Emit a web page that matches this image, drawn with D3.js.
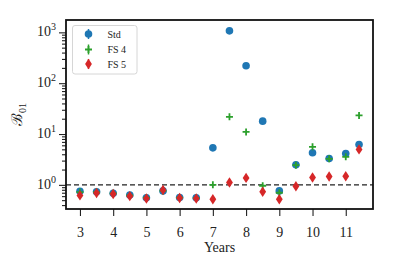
<!DOCTYPE html>
<html>
<head>
<meta charset="utf-8">
<script src="https://cdn.jsdelivr.net/npm/d3@7"></script>
<style>
  body { margin: 0; background: #fff; }
  text { font-family: "Liberation Serif", "DejaVu Serif", serif; }
</style>
</head>
<body>
<script>
// Bayes factor per year window
const years = [3, 3.5, 4, 4.5, 5, 5.5, 6, 6.5, 7, 7.5, 8, 8.5, 9, 9.5, 10, 10.5, 11, 11.4];
const stdVals = [0.75, 0.73, 0.68, 0.63, 0.555, 0.76, 0.565, 0.555, 5.35, 1070, 220, 17.9, 0.76, 2.48, 4.27, 3.31, 4.15, 6.24];
const fs4Vals = [0.72, 0.72, 0.68, 0.62, 0.56, 0.76, 0.56, 0.55, 1.0, 21.8, 11, 0.96, 0.70, 2.44, 5.6, 3.25, 3.56, 23.2];
const fs5Vals = [0.62, 0.69, 0.66, 0.60, 0.54, 0.79, 0.55, 0.54, 0.52, 1.11, 1.37, 0.73, 0.52, 0.94, 1.40, 1.46, 1.48, 4.98];
const xTicks = [3, 4, 5, 6, 7, 8, 9, 10, 11];
const yTicks = [1, 10, 100, 1000];
const seriesNames = ["Std", "FS 4", "FS 5"];

const width = 394, height = 268;
const margin = {top: 20, right: 21, bottom: 59, left: 66};

const svg = d3.select("body").append("svg")
    .attr("width", width)
    .attr("height", height);

const xscale = d3.scaleLinear()
    .domain([2.58, 11.82])
    .range([margin.left, width - margin.right]);

const yscale = d3.scaleLog()
    .domain([0.335, 1750])
    .range([height - margin.bottom, margin.top]);

// minor ticks for log axis
const minor = [];
for (let e = -1; e <= 3; e++) {
    for (let m = 2; m <= 9; m++) {
        const v = m * Math.pow(10, e);
        if (v >= 0.335 && v <= 1750) minor.push(v);
    }
}

const yaxis = d3.axisLeft(yscale)
    .tickValues(yTicks)
    .tickSize(7)
    .tickFormat("");
const yminor = d3.axisLeft(yscale)
    .tickValues(minor)
    .tickSize(4)
    .tickFormat("");
const xaxis = d3.axisBottom(xscale)
    .tickValues(xTicks)
    .tickSize(7)
    .tickFormat(d3.format("d"));

const gy = svg.append("g")
    .attr("transform", `translate(${margin.left},0)`)
    .call(yaxis);
svg.append("g")
    .attr("transform", `translate(${margin.left},0)`)
    .call(yminor)
    .call(g => g.select(".domain").remove());
const gx = svg.append("g")
    .attr("transform", `translate(0,${height - margin.bottom})`)
    .call(xaxis);

[gx, gy].forEach(g => {
    g.select(".domain").remove();
});
svg.selectAll(".tick line").attr("stroke", "#222").attr("stroke-width", 1.1);

gx.selectAll(".tick text")
    .attr("dy", "1.3em")
    .attr("font-size", 14)
    .attr("fill", "#222");

// y tick labels as 10^n
yTicks.forEach(v => {
    const t = svg.append("text")
        .attr("x", margin.left - 10)
        .attr("y", yscale(v) + 4)
        .attr("text-anchor", "end")
        .attr("font-size", 14)
        .attr("fill", "#222");
    t.append("tspan").text("10");
    t.append("tspan")
        .attr("dy", -6)
        .attr("font-size", 10)
        .text(String(Math.round(Math.log10(v))));
});

// dashed reference line at 1
svg.append("line")
    .attr("x1", margin.left).attr("x2", width - margin.right)
    .attr("y1", yscale(1)).attr("y2", yscale(1))
    .attr("stroke", "#222")
    .attr("stroke-width", 1.4)
    .attr("stroke-dasharray", "5,3");

// markers
const diamond = (cx, cy) => `M${cx},${cy - 5.2}L${cx + 3.4},${cy}L${cx},${cy + 5.2}L${cx - 3.4},${cy}Z`;

svg.append("g").selectAll("circle")
    .data(years)
    .enter()
    .append("circle")
    .attr("cx", d => xscale(d))
    .attr("cy", (d, i) => yscale(stdVals[i]))
    .attr("r", 3.8)
    .attr("fill", "#1f77b4");

svg.append("g").selectAll("path")
    .data(years)
    .enter()
    .append("path")
    .attr("d", (d, i) => {
        const cx = xscale(d), cy = yscale(fs4Vals[i]);
        return `M${cx - 3.5},${cy}H${cx + 3.5}M${cx},${cy - 3.5}V${cy + 3.5}`;
    })
    .attr("stroke", "#2ca02c")
    .attr("stroke-width", 1.8)
    .attr("fill", "none");

svg.append("g").selectAll("path")
    .data(years)
    .enter()
    .append("path")
    .attr("d", (d, i) => diamond(xscale(d), yscale(fs5Vals[i])))
    .attr("fill", "#d62728");

// frame
svg.append("rect")
    .attr("x", margin.left)
    .attr("y", margin.top)
    .attr("width", width - margin.left - margin.right)
    .attr("height", height - margin.top - margin.bottom)
    .attr("fill", "none")
    .attr("stroke", "#111")
    .attr("stroke-width", 1.8);

// legend
const legend = svg.append("g");
legend.append("rect")
    .attr("x", 72.5).attr("y", 25.5)
    .attr("width", 64.5).attr("height", 48.5)
    .attr("rx", 2.5)
    .attr("fill", "#fff")
    .attr("fill-opacity", 0.85)
    .attr("stroke", "#d6d6d6")
    .attr("stroke-width", 1);

const legY = [34, 49.5, 64];
const legColors = ["#1f77b4", "#2ca02c", "#d62728"];
seriesNames.forEach((name, i) => {
    const lx = 88.5, ly = legY[i];
    legend.append("line")
        .attr("x1", lx).attr("x2", lx)
        .attr("y1", ly - 5).attr("y2", ly + 5)
        .attr("stroke", legColors[i])
        .attr("stroke-width", 1.5);
    if (i === 0) {
        legend.append("circle").attr("cx", lx).attr("cy", ly).attr("r", 3.8).attr("fill", legColors[i]);
    } else if (i === 1) {
        legend.append("path")
            .attr("d", `M${lx - 3.5},${ly}H${lx + 3.5}M${lx},${ly - 3.5}V${ly + 3.5}`)
            .attr("stroke", legColors[i]).attr("stroke-width", 1.8);
    } else {
        legend.append("path").attr("d", diamond(lx, ly)).attr("fill", legColors[i]);
    }
    legend.append("text")
        .attr("x", 107.5)
        .attr("y", ly + 3.5)
        .attr("font-size", 10)
        .attr("fill", "#222")
        .text(name);
});

// axis labels
svg.append("text")
    .attr("x", xscale(7.2))
    .attr("y", 252)
    .attr("text-anchor", "middle")
    .attr("font-size", 14)
    .attr("fill", "#222")
    .text("Years");

const yl = svg.append("text")
    .attr("transform", `translate(22,${(margin.top + height - margin.bottom) / 2}) rotate(-90)`)
    .attr("text-anchor", "middle")
    .attr("font-size", 15)
    .attr("fill", "#222");
yl.append("tspan").attr("font-family", "DejaVu Serif").text("ℬ");
yl.append("tspan").attr("dy", 4).attr("font-size", 10).text("01");
</script>
</body>
</html>
